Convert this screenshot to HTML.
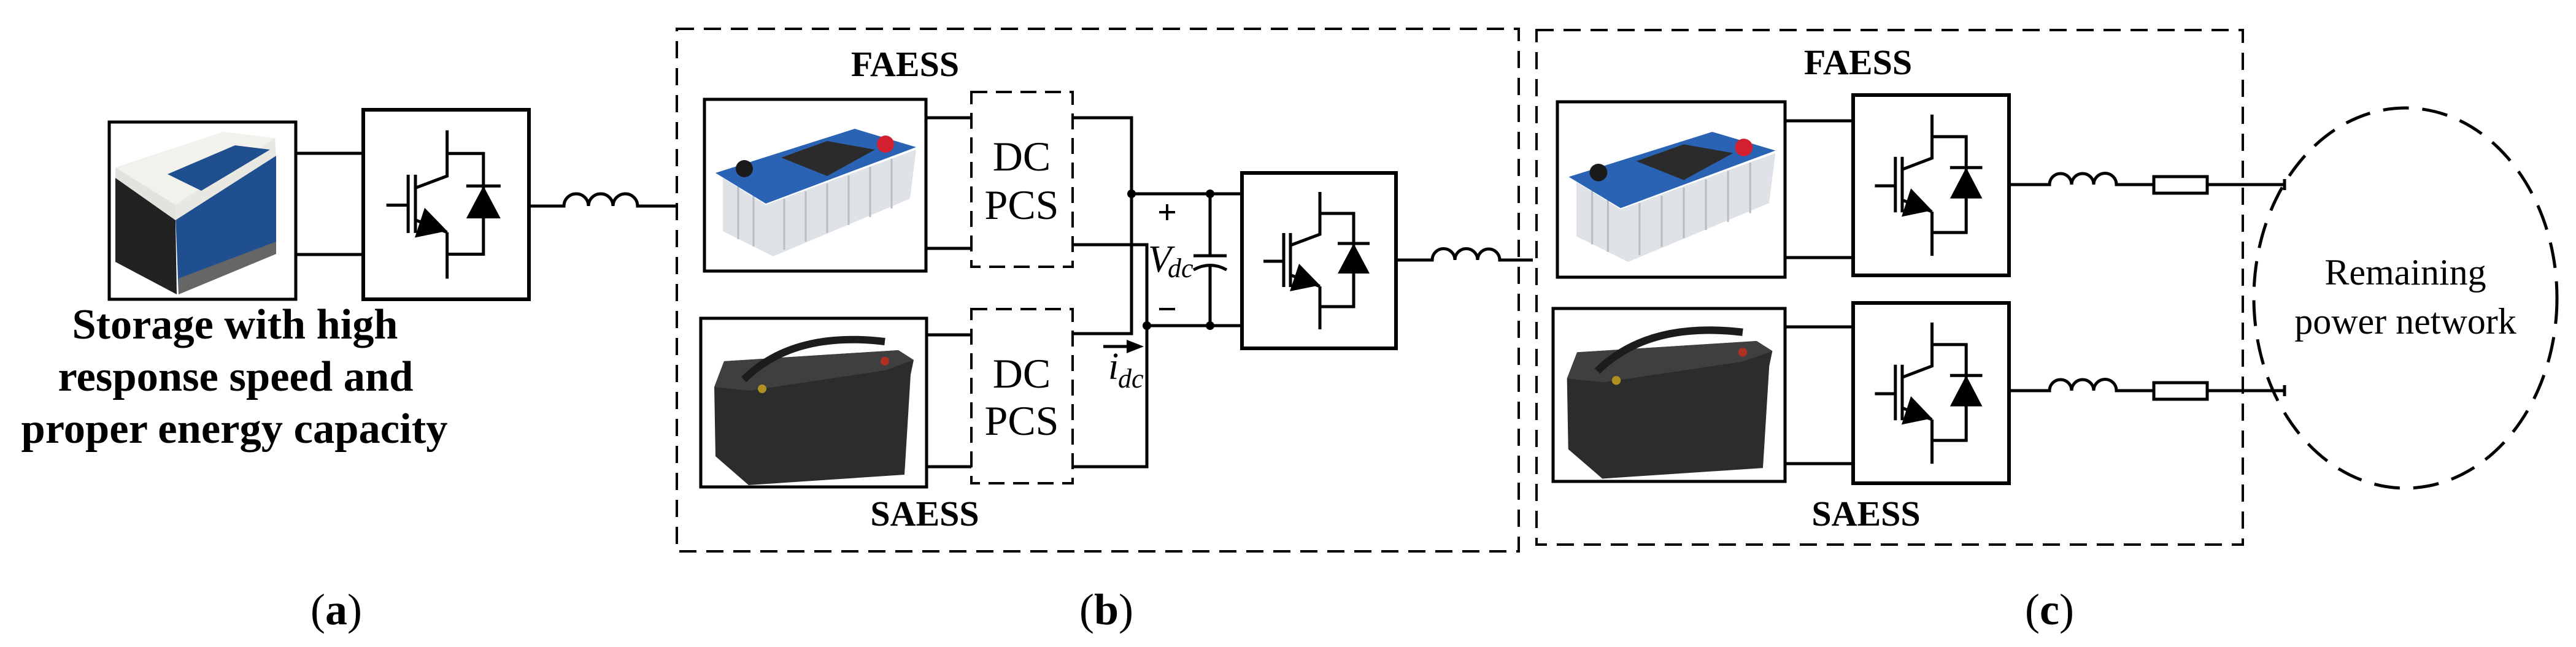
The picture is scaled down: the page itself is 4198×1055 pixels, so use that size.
<!DOCTYPE html>
<html><head><meta charset="utf-8">
<style>
html,body{margin:0;padding:0;background:#fff;}
svg{display:block;}
svg text{font-family:"Liberation Serif","Times New Roman","DejaVu Serif",serif;fill:#000;}
</style></head>
<body>
<svg width="4198" height="1055" viewBox="0 0 4198 1055" xmlns="http://www.w3.org/2000/svg" font-family="'Liberation Serif', 'Times New Roman', 'DejaVu Serif', serif">
<defs>
  <g id="igbt" fill="none" stroke="#000" stroke-width="5">
    <path d="M127,31 V100 L79,118" vector-effect="non-scaling-stroke"/>
    <path d="M127,66 H182 V218 H127" vector-effect="non-scaling-stroke"/>
    <path d="M127,185 V255" vector-effect="non-scaling-stroke"/>
    <path d="M78,166 L127,185" vector-effect="non-scaling-stroke"/>
    <path d="M68,98 V186 M79,98 V186" vector-effect="non-scaling-stroke"/>
    <path d="M35,144 H68" vector-effect="non-scaling-stroke"/>
    <path d="M156,115 H208" vector-effect="non-scaling-stroke"/>
    <polygon points="182,115 156,164 208,164" fill="#000" stroke="none"/>
    <polygon points="93,148 127,183 78,193" fill="#000" stroke="none"/>
  </g>
  <g id="supercap">
    <polygon points="30,128 100,172 345,82 335,162 112,256 30,215" fill="#dfe3e7"/>
    <g stroke="#b9bec4" stroke-width="3">
      <line x1="55" y1="140" x2="55" y2="228"/><line x1="80" y1="155" x2="80" y2="240"/>
      <line x1="130" y1="162" x2="130" y2="245"/><line x1="165" y1="150" x2="165" y2="232"/>
      <line x1="200" y1="137" x2="200" y2="218"/><line x1="235" y1="124" x2="235" y2="205"/>
      <line x1="270" y1="110" x2="270" y2="192"/><line x1="305" y1="97" x2="305" y2="178"/>
    </g>
    <polygon points="18,120 245,48 345,78 100,170" fill="#2a63b4"/>
    <polygon points="125,95 200,68 278,82 200,125" fill="#2b2b2b"/>
    <circle cx="295" cy="73" r="14" fill="#d32030"/>
    <circle cx="65" cy="113" r="14" fill="#1a1a1a"/>
  </g>
  <g id="leadacid">
    <polygon points="22,112 38,70 322,52 347,68 342,92 332,255 78,272 24,225" fill="#2c2c2c"/>
    <polygon points="22,112 38,70 322,52 347,68 300,85 80,118" fill="#3f3f3f"/>
    <path d="M70,100 Q150,20 300,38" fill="none" stroke="#1c1c1c" stroke-width="12"/>
    <circle cx="300" cy="70" r="7" fill="#b03020"/>
    <circle cx="100" cy="115" r="7" fill="#b09020"/>
  </g>
  <g id="libat">
    <polygon points="10,91 108,160 110,281 10,228" fill="#222"/>
    <polygon points="108,150 272,55 272,215 113,281" fill="#1f4f8f"/>
    <polygon points="113,255 272,195 272,215 113,281" fill="#666"/>
    <polygon points="10,74 185,16 270,26 108,135" fill="#f2f1ec"/>
    <polygon points="10,74 108,135 108,160 10,91" fill="#e4e2dc"/>
    <polygon points="108,135 270,26 272,55 108,160" fill="#e9e7e1"/>
    <polygon points="95,85 205,38 262,45 150,112" fill="#1f4f8f"/>
  </g>
</defs>

<!-- ========== (a) ========== -->
<g transform="translate(178,199)"><use href="#libat"/></g>
<rect x="178" y="199" width="304" height="289" fill="none" stroke="#000" stroke-width="5"/>
<rect x="592" y="179" width="270" height="309" fill="none" stroke="#000" stroke-width="6"/>
<g transform="translate(592,179) scale(1.076,1.08)"><use href="#igbt"/></g>
<g stroke="#000" stroke-width="5" fill="none">
  <path d="M482,250 H592 M482,415 H592"/>
  <path d="M862,336 H919 A10,10 0 0 1 959,336 A10,10 0 0 1 999,336 A10,10 0 0 1 1039,336 H1103"/>
</g>
<text x="383" y="552" font-size="70" font-weight="bold" text-anchor="middle" textLength="531" lengthAdjust="spacingAndGlyphs">Storage with high</text>
<text x="384" y="637" font-size="70" font-weight="bold" text-anchor="middle" textLength="579" lengthAdjust="spacingAndGlyphs">response speed and</text>
<text x="382" y="722" font-size="70" font-weight="bold" text-anchor="middle" textLength="695" lengthAdjust="spacingAndGlyphs">proper energy capacity</text>
<text x="548" y="1018" font-size="72" text-anchor="middle">(<tspan font-weight="bold">a</tspan>)</text>

<!-- ========== (b) ========== -->
<rect x="1103" y="47" width="1372" height="852" fill="none" stroke="#000" stroke-width="4" stroke-dasharray="28 16"/>
<text x="1475" y="124" font-size="58" font-weight="bold" text-anchor="middle">FAESS</text>
<text x="1507" y="857" font-size="58" font-weight="bold" text-anchor="middle">SAESS</text>
<g transform="translate(1148,162)"><use href="#supercap"/></g>
<rect x="1148" y="162" width="361" height="280" fill="none" stroke="#000" stroke-width="5"/>
<g transform="translate(1142,519)"><use href="#leadacid"/></g>
<rect x="1142" y="519" width="368" height="275" fill="none" stroke="#000" stroke-width="5"/>
<rect x="1583" y="150" width="165" height="285" fill="none" stroke="#000" stroke-width="4" stroke-dasharray="26 14"/>
<rect x="1583" y="504" width="165" height="284" fill="none" stroke="#000" stroke-width="4" stroke-dasharray="26 14"/>
<text x="1665" y="278" font-size="68" text-anchor="middle">DC</text>
<text x="1665" y="357" font-size="68" text-anchor="middle">PCS</text>
<text x="1665" y="632" font-size="68" text-anchor="middle">DC</text>
<text x="1665" y="709" font-size="68" text-anchor="middle">PCS</text>
<g stroke="#000" stroke-width="5" fill="none">
  <path d="M1509,192 H1583 M1509,405 H1583 M1510,546 H1583 M1510,761 H1583"/>
  <path d="M1748,192 H1844 V544 H1748"/>
  <path d="M1748,399 H1869 V761 H1748"/>
  <path d="M1844,316 H2024 M1869,531 H2024"/>
  <path d="M1972,316 V417 M1945,417 H1999"/>
  <path d="M1945,440 Q1972,425 1999,440 M1972,433 V531"/>
  <path d="M1798,565 H1845"/>
  <path d="M1889,346 h26 M1902,333 v26 M1889,504 h26" stroke-width="4"/>
  <path d="M2275,424 H2334 A9.2,9.2 0 0 1 2371,424 A9.2,9.2 0 0 1 2408,424 A9.2,9.2 0 0 1 2444,424 H2498"/>
</g>
<polygon points="1864,565 1836,554 1836,576" fill="#000"/>
<g fill="#000">
  <circle cx="1844" cy="316" r="7"/><circle cx="1972" cy="316" r="7"/>
  <circle cx="1869" cy="531" r="7"/><circle cx="1972" cy="531" r="7"/>
</g>
<text x="1871" y="443" font-size="62" font-style="italic">V</text>
<text x="1903" y="452" font-size="44" font-style="italic">dc</text>
<text x="1806" y="618" font-size="62" font-style="italic">i</text>
<text x="1822" y="632" font-size="44" font-style="italic">dc</text>
<rect x="2024" y="282" width="251" height="286" fill="none" stroke="#000" stroke-width="6"/>
<g transform="translate(2024,282)"><use href="#igbt"/></g>
<text x="1803" y="1018" font-size="72" text-anchor="middle">(<tspan font-weight="bold">b</tspan>)</text>

<!-- ========== (c) ========== -->
<rect x="2504" y="49" width="1151" height="839" fill="none" stroke="#000" stroke-width="4" stroke-dasharray="28 16"/>
<text x="3028" y="121" font-size="58" font-weight="bold" text-anchor="middle">FAESS</text>
<text x="3041" y="857" font-size="58" font-weight="bold" text-anchor="middle">SAESS</text>
<g transform="translate(2538,166) scale(1.03,1.02)"><use href="#supercap"/></g>
<rect x="2538" y="166" width="371" height="286" fill="none" stroke="#000" stroke-width="5"/>
<g transform="translate(2531,503) scale(1.03,1.02)"><use href="#leadacid"/></g>
<rect x="2531" y="503" width="378" height="282" fill="none" stroke="#000" stroke-width="5"/>
<rect x="3020" y="155" width="254" height="294" fill="none" stroke="#000" stroke-width="6"/>
<rect x="3020" y="494" width="254" height="294" fill="none" stroke="#000" stroke-width="6"/>
<g transform="translate(3020,155) scale(1.012,1.028)"><use href="#igbt"/></g>
<g transform="translate(3020,494) scale(1.012,1.028)"><use href="#igbt"/></g>
<g stroke="#000" stroke-width="5" fill="none">
  <path d="M2909,197 H3020 M2909,420 H3020 M2909,533 H3020 M2909,756 H3020"/>
  <path d="M3274,301 H3340 A9,9 0 0 1 3376,301 A9,9 0 0 1 3412,301 A9,9 0 0 1 3449,301 H3510 M3597,301 H3723 M3723,292 V310"/>
  <path d="M3274,637 H3340 A9,9 0 0 1 3376,637 A9,9 0 0 1 3412,637 A9,9 0 0 1 3449,637 H3510 M3597,637 H3723 M3723,628 V646"/>
  <rect x="3510" y="288" width="87" height="27"/>
  <rect x="3510" y="624" width="87" height="27"/>
</g>
<ellipse cx="3920" cy="486" rx="247" ry="310" fill="none" stroke="#000" stroke-width="5" stroke-dasharray="42 22"/>
<text x="3920" y="464" font-size="60" text-anchor="middle">Remaining</text>
<text x="3920" y="544" font-size="60" text-anchor="middle">power network</text>
<text x="3340" y="1018" font-size="72" text-anchor="middle">(<tspan font-weight="bold">c</tspan>)</text>
</svg>
</body></html>
